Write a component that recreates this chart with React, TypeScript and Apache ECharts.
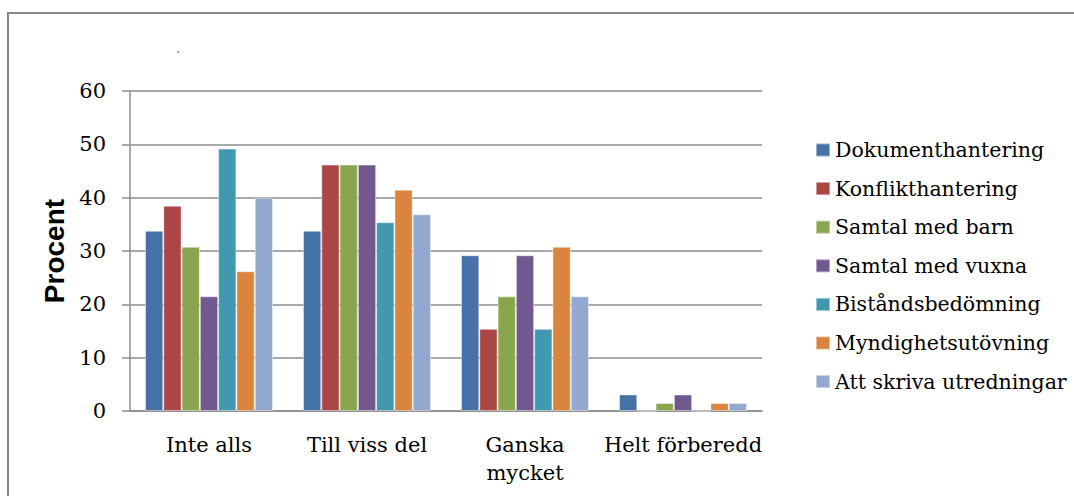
import React, { useEffect, useRef } from "react";
import * as echarts from "echarts";

const categories = ["Inte alls", "Till viss del", "Ganska\nmycket", "Helt förberedd"];
const seriesNames = [
  "Dokumenthantering",
  "Konflikthantering",
  "Samtal med barn",
  "Samtal med vuxna",
  "Biståndsbedömning",
  "Myndighetsutövning",
  "Att skriva utredningar",
];
const dokumenthantering = [33.8, 33.8, 29.2, 3.1];
const konflikthantering = [38.5, 46.2, 15.4, 0];
const samtalMedBarn = [30.8, 46.2, 21.5, 1.5];
const samtalMedVuxna = [21.5, 46.2, 29.2, 3.1];
const bistandsbedomning = [49.2, 35.4, 15.4, 0];
const myndighetsutovning = [26.2, 41.5, 30.8, 1.5];
const attSkrivaUtredningar = [40.0, 36.9, 21.5, 1.5];
const seriesValues = [
  dokumenthantering,
  konflikthantering,
  samtalMedBarn,
  samtalMedVuxna,
  bistandsbedomning,
  myndighetsutovning,
  attSkrivaUtredningar,
];
const colors = ["#4572a7", "#aa4643", "#89a54e", "#71588f", "#4198af", "#db843d", "#93a9cf"];
const yTicks = { min: 0, max: 60, interval: 10 };

const serif = "DejaVu Serif";

export default function App() {
  const ref = useRef<HTMLDivElement>(null);
  useEffect(() => {
    if (!ref.current) return;
    const chart = echarts.init(ref.current, null, { renderer: "svg" });
    chart.setOption({
      animation: false,
      backgroundColor: "#ffffff",
      color: colors,
      grid: { left: 130, right: 312, top: 91, bottom: 85, containLabel: false },
      legend: {
        orient: "vertical",
        left: 810,
        top: 133,
        icon: "rect",
        itemWidth: 14,
        itemHeight: 13,
        itemGap: 14.6,
        textStyle: { fontFamily: serif, fontSize: 20.5, color: "#000", lineHeight: 24 },
        data: seriesNames,
      },
      xAxis: {
        type: "category",
        data: categories,
        axisLine: { show: true, lineStyle: { color: "#8c8c8c", width: 1.5 } },
        axisTick: { show: false },
        axisLabel: {
          fontFamily: serif,
          fontSize: 21,
          color: "#000",
          margin: 20,
          lineHeight: 28,
          interval: 0,
        },
      },
      yAxis: {
        type: "value",
        min: yTicks.min,
        max: yTicks.max,
        interval: yTicks.interval,
        name: "Procent",
        nameLocation: "middle",
        nameRotate: 90,
        nameGap: 62,
        nameTextStyle: {
          fontFamily: "Liberation Sans",
          fontWeight: "bold",
          fontSize: 28,
          color: "#000",
        },
        axisLine: { show: true, lineStyle: { color: "#8c8c8c", width: 1.5 } },
        axisTick: { show: true, inside: false, length: 8, lineStyle: { color: "#8c8c8c", width: 1.5 } },
        axisLabel: { fontFamily: serif, fontSize: 21, color: "#000", margin: 24 },
        splitLine: { show: true, lineStyle: { color: "#8c8c8c", width: 1.5 } },
      },
      series: seriesNames.map((name, i) => ({
        name,
        type: "bar",
        data: seriesValues[i],
        barGap: "0%",
        barCategoryGap: "19%",
        itemStyle: { color: colors[i], borderColor: "rgba(255,255,255,0.45)", borderWidth: 1 },
      })),
      graphic: [
        {
          type: "rect",
          shape: { x: 8, y: 13, width: 1100, height: 520 },
          style: { fill: "none", stroke: "#888888", lineWidth: 2 },
          silent: true,
        },
        {
          type: "circle",
          shape: { cx: 178, cy: 52, r: 0.8 },
          style: { fill: "#666" },
          silent: true,
        },
      ],
    });
    return () => chart.dispose();
  }, []);
  return (
    <div
      ref={ref}
      style={{ position: "fixed", left: 0, top: 0, width: 1074, height: 496, background: "#fff" }}
    />
  );
}
